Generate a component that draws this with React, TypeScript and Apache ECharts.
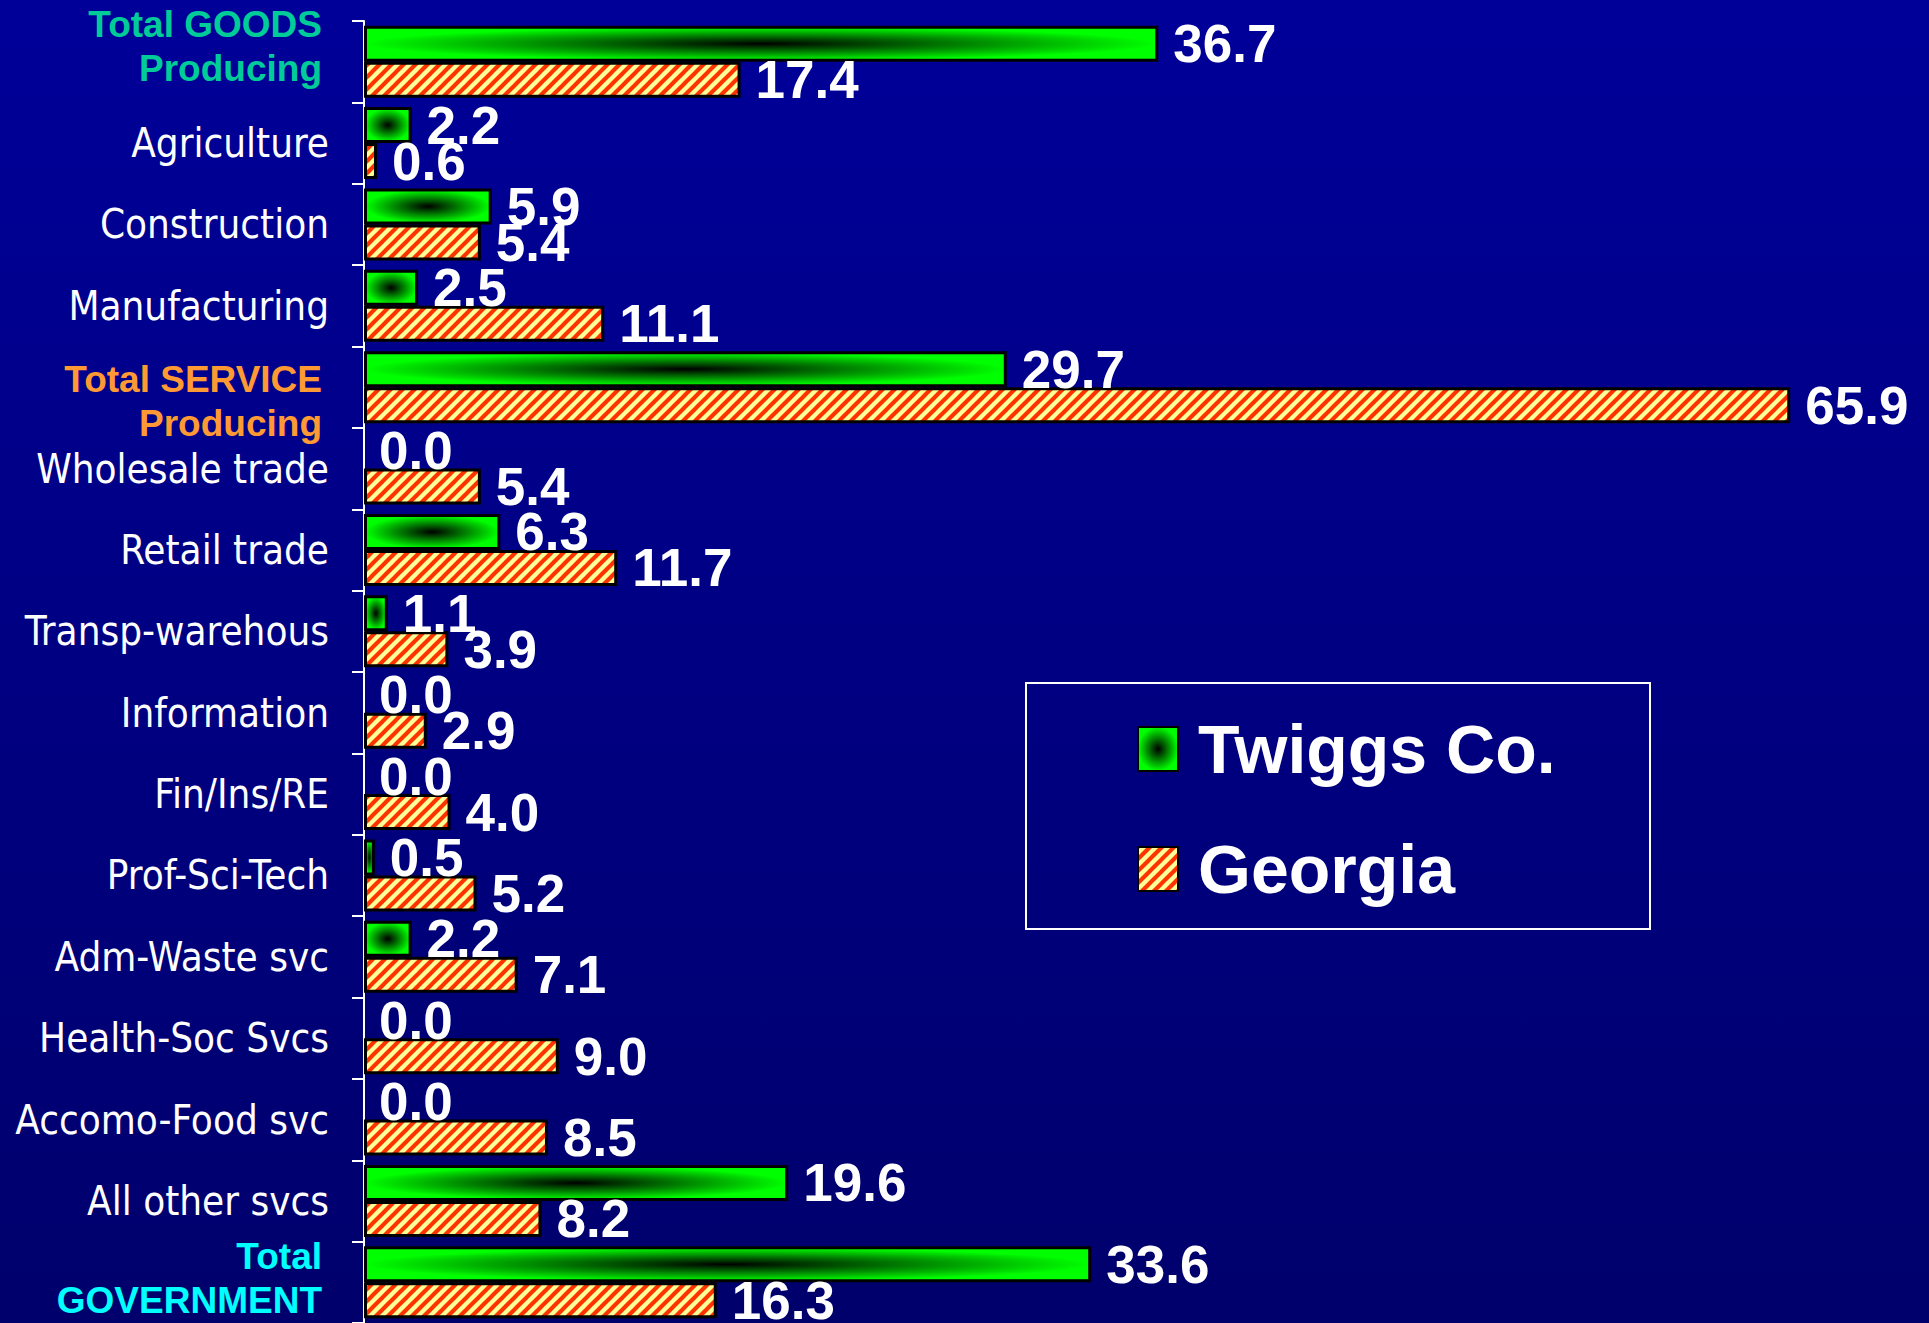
import React, { useEffect, useRef } from 'react';
import * as echarts from 'echarts';

const categories = [
  'Total GOODS Producing',
  'Agriculture',
  'Construction',
  'Manufacturing',
  'Total SERVICE Producing',
  'Wholesale trade',
  'Retail trade',
  'Transp-warehous',
  'Information',
  'Fin/Ins/RE',
  'Prof-Sci-Tech',
  'Adm-Waste svc',
  'Health-Soc Svcs',
  'Accomo-Food svc',
  'All other svcs',
  'Total GOVERNMENT',
];
const twiggs = [36.7, 2.2, 5.9, 2.5, 29.7, 0.0, 6.3, 1.1, 0.0, 0.0, 0.5, 2.2, 0.0, 0.0, 19.6, 33.6];
const georgia = [17.4, 0.6, 5.4, 11.1, 65.9, 5.4, 11.7, 3.9, 2.9, 4.0, 5.2, 7.1, 9.0, 8.5, 8.2, 16.3];
const seriesNames = ['Twiggs Co.', 'Georgia'];

function makeHatch(P: number): HTMLCanvasElement {
  const c = document.createElement('canvas');
  c.width = P;
  c.height = P;
  const ctx = c.getContext('2d')!;
  ctx.fillStyle = '#FFFF99';
  ctx.fillRect(0, 0, P, P);
  ctx.strokeStyle = '#FF3300';
  ctx.lineWidth = P * 0.34;
  for (const x0 of [-P, 0, P]) {
    ctx.beginPath();
    ctx.moveTo(x0 - 3, P + 3);
    ctx.lineTo(x0 + P + 3, -3);
    ctx.stroke();
  }
  return c;
}

function pickNarrowFont(): { family: string; size: number } {
  const ctx = document.createElement('canvas').getContext('2d')!;
  const test = 'Transp-warehous Accomo-Food';
  const measure = (f: string) => {
    ctx.font = '100px ' + f;
    return ctx.measureText(test).width;
  };
  const mono = measure('monospace');
  const serif = measure('serif');
  let family = 'Liberation Sans';
  const candidates = ['Liberation Sans Narrow', 'Arial Narrow', 'Nimbus Sans Narrow', 'DejaVu Sans Condensed'];
  for (const f of candidates) {
    const a = measure('"' + f + '", monospace');
    const b = measure('"' + f + '", serif');
    if (Math.abs(a - b) < 0.5 && Math.abs(a - mono) > 0.5 && Math.abs(b - serif) > 0.5) {
      family = f;
      break;
    }
  }
  ctx.font = '100px "' + family + '"';
  const w = ctx.measureText('Transp-warehous').width;
  const size = Math.min(48, Math.round((308 * 100) / w));
  return { family, size };
}

export default function App() {
  const ref = useRef<HTMLDivElement>(null);
  useEffect(() => {
    document.body.style.margin = '0';
    document.body.style.overflow = 'hidden';
    const chart = echarts.init(ref.current!, null, { renderer: 'svg' });
    const P = 12;
    const hatch = makeHatch(P);
    const narrow = pickNarrowFont();
    const greenFill = {
      type: 'radial',
      x: 0.5,
      y: 0.5,
      r: 0.5,
      colorStops: [
        { offset: 0, color: '#000000' },
        { offset: 1, color: '#00FF00' },
      ],
    };
    const hatchFill = { image: hatch, repeat: 'repeat', imageWidth: P, imageHeight: P };
    const valueLabel = {
      show: true,
      position: 'right',
      distance: 15,
      color: '#FFFFFF',
      fontFamily: 'Liberation Sans',
      fontWeight: 'bold',
      fontSize: 53,
      formatter: (p: any) => Number(p.value).toFixed(1),
    };
    const special = {
      fontFamily: 'Liberation Sans',
      fontWeight: 'bold',
      fontSize: 37,
      lineHeight: 44,
      padding: [0, 7, 0, 0],
    };
    const toData = (arr: number[]) =>
      arr.map((v) => (v === 0 ? { value: v, itemStyle: { borderWidth: 0 } } : v));
    const option: any = {
      animation: false,
      backgroundColor: {
        type: 'linear',
        x: 0,
        y: 0,
        x2: 0,
        y2: 1,
        colorStops: [
          { offset: 0, color: '#000099' },
          { offset: 1, color: '#00006C' },
        ],
      },
      grid: { left: 364, top: 21, bottom: 0, right: 50, containLabel: false, outerBoundsMode: 'none' },
      xAxis: { type: 'value', min: 0, max: 70, show: false },
      yAxis: {
        type: 'category',
        inverse: true,
        data: categories,
        axisLine: { show: true, lineStyle: { color: '#FFFFFF', width: 2 } },
        axisTick: { show: true, length: 12, lineStyle: { color: '#FFFFFF', width: 2 } },
        splitLine: { show: false },
        axisLabel: {
          margin: 35,
          color: '#FFFFFF',
          fontFamily: narrow.family,
          fontSize: narrow.size,
          align: 'right',
          formatter: (v: string) => {
            if (v === 'Total GOODS Producing') return '{g|Total GOODS}\n{g|Producing}\n{sp|a}';
            if (v === 'Total SERVICE Producing') return '{sp2|a}\n{s|Total SERVICE}\n{s|Producing}';
            if (v === 'Total GOVERNMENT') return '{v|Total}\n{v|GOVERNMENT}\n{sp3|a}';
            return v;
          },
          rich: {
            g: { ...special, color: '#00CC99' },
            s: { ...special, color: '#FF9933' },
            v: { ...special, color: '#00FFFF' },
            sp: { color: 'rgba(0,0,0,0)', fontSize: 8, lineHeight: 30 },
            sp2: { color: 'rgba(0,0,0,0)', fontSize: 8, lineHeight: 28 },
            sp3: { color: 'rgba(0,0,0,0)', fontSize: 8, lineHeight: 8 },
          },
        },
      },
      legend: {
        show: true,
        orient: 'vertical',
        left: 1137,
        top: 709,
        padding: 0,
        itemGap: 40,
        itemWidth: 40,
        itemHeight: 44,
        icon: 'rect',
        selectedMode: false,
        data: seriesNames,
        textStyle: {
          color: '#FFFFFF',
          fontFamily: 'Liberation Sans',
          fontWeight: 'bold',
          fontSize: 68,
          lineHeight: 80,
          padding: [0, 0, 0, 15],
        },
      },
      graphic: [
        {
          type: 'rect',
          shape: { x: 1026, y: 683, width: 624, height: 246 },
          style: { fill: 'none', stroke: '#FFFFFF', lineWidth: 2 },
          silent: true,
        },
      ],
      series: [
        {
          name: seriesNames[0],
          type: 'bar',
          data: toData(twiggs),
          barWidth: 36,
          barGap: '0%',
          itemStyle: { color: greenFill, borderColor: '#000000', borderWidth: 3 },
          label: valueLabel,
        },
        {
          name: seriesNames[1],
          type: 'bar',
          data: toData(georgia),
          barWidth: 36,
          barGap: '0%',
          itemStyle: { color: hatchFill, borderColor: '#000000', borderWidth: 3 },
          label: valueLabel,
        },
      ],
    };
    chart.setOption(option);
    return () => chart.dispose();
  }, []);
  return (
    <div
      ref={ref}
      style={{ position: 'absolute', left: 0, top: 0, width: 1929, height: 1323 }}
    />
  );
}
